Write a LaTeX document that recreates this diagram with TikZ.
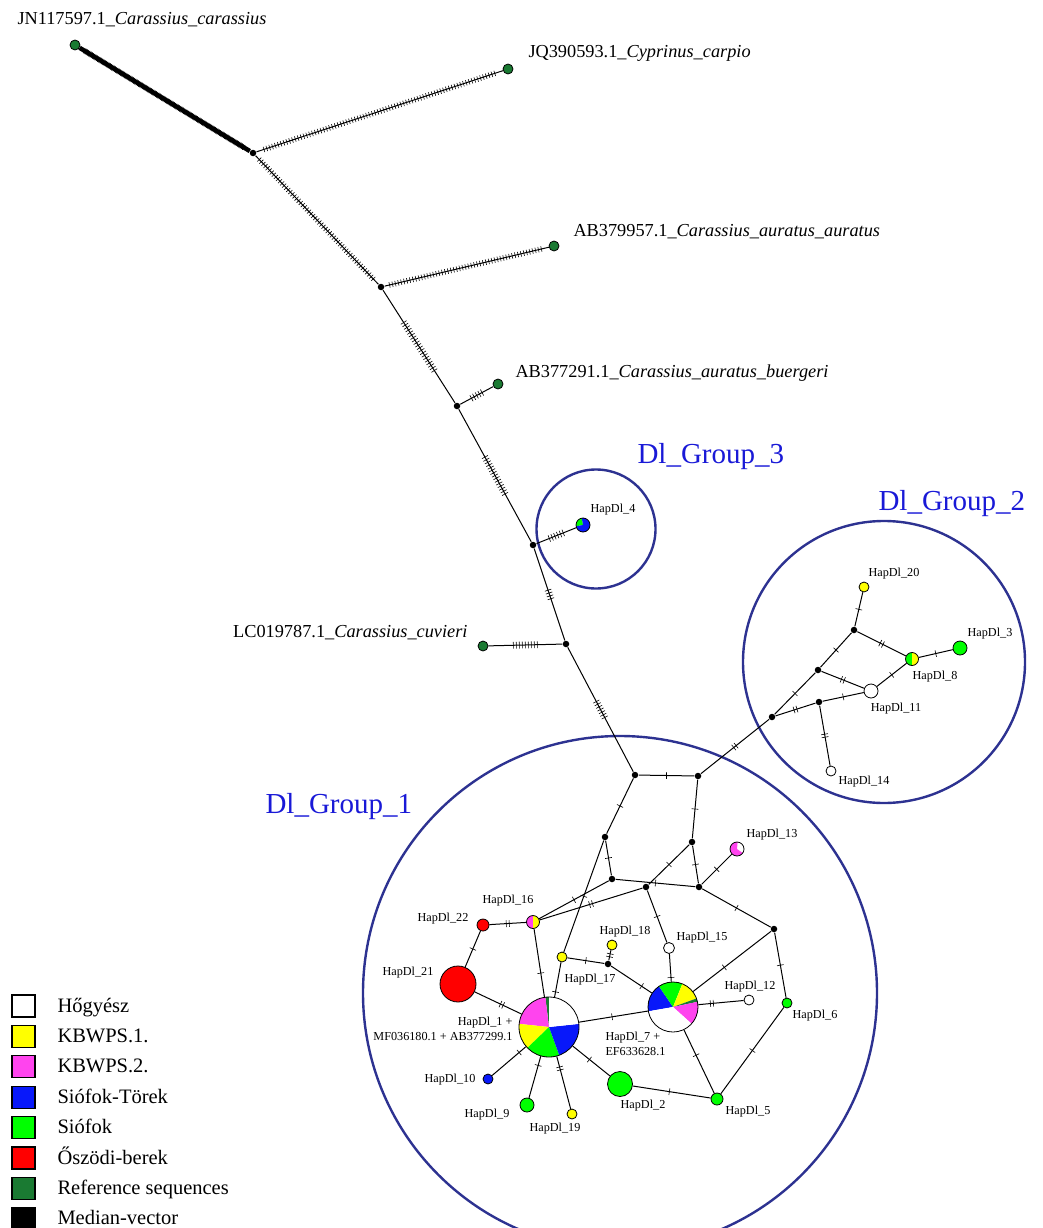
\documentclass[tikz,border=0pt]{standalone}
\usepackage{fontspec}
\setmainfont{Liberation Serif}
\usetikzlibrary{decorations.markings}

\definecolor{hyellow}{RGB}{255,255,0}
\definecolor{hpink}{RGB}{255,68,238}
\definecolor{hblue}{RGB}{8,24,250}
\definecolor{hgreen}{RGB}{0,255,0}
\definecolor{hred}{RGB}{255,0,0}
\definecolor{refgreen}{RGB}{26,122,50}
\definecolor{grpnavy}{RGB}{45,50,145}
\definecolor{titleblue}{RGB}{25,25,215}

\tikzset{
	med/.style={circle,fill=black,inner sep=0pt,minimum size=6.5pt},
	hap/.style={circle,draw,line width=.8pt,inner sep=0pt,minimum size=#1},
	hap/.default=10pt,
	refseq/.style={hap=10pt,fill=refgreen},
	lbl/.style={inner sep=0pt,font=\fontsize{12.2}{15}\selectfont},
	sp/.style={inner sep=0pt,font=\fontsize{18.3}{22}\selectfont},
	grp/.style={draw=grpnavy,line width=2.4pt},
	grptitle/.style={inner sep=0pt,text=titleblue,font=\fontsize{29}{32}\selectfont},
	legbox/.style={draw,line width=1.1pt,minimum width=23pt,minimum height=22pt,inner sep=0pt},
	legtext/.style={inner sep=0pt,font=\fontsize{20.5}{24}\selectfont},
	% n ticks (mutations) centred at a position of the edge
	mut/.style args={#1 at #2}{postaction={decorate,decoration={markings,
		mark=at position #2 with {\foreach \k in {1,...,#1}
			\draw[line width=.6pt] ({(\k-(#1+1)/2)*3pt},-3.4pt) -- ++(0,6.8pt);}}}},
	% ticks all along the edge
	mutrun/.style={postaction={decorate,decoration={markings,
		mark=between positions .03 and .97 step #1 with {\draw[line width=.6pt] (0,-2.8pt) -- (0,2.8pt);}}}},
}
\newcommand{\hapslice}[5]{\fill[#5] (#1) -- ++(#3:#2pt) arc[start angle=#3,end angle=#4,radius=#2pt] -- cycle;}

\begin{document}
\begin{tikzpicture}[x=1pt,y=-1pt,line width=1pt]
	\useasboundingbox (0,0) rectangle (1043,1228);
	
	% groups
	\draw[grp] (620,993) circle[radius=257pt];
	\draw[grp] (884,662) circle[radius=141pt];
	\draw[grp] (596,529) circle[radius=59.5pt];
	\node[grptitle,anchor=base west] (t1) at (265,813) {Dl\_Group\_1};
	\node[grptitle,anchor=base west] (t2) at (878,510) {Dl\_Group\_2};
	\node[grptitle,anchor=base west] (t3) at (637,463) {Dl\_Group\_3};
	
	% median vectors
	\node[med] (A) at (253,153) {};
	\node[med] (B) at (381,287) {};
	\node[med] (C) at (457,406) {};
	\node[med] (D) at (533,545) {};
	\node[med] (E) at (566,644) {};
	\node[med] (F) at (635,775) {};
	\node[med] (G) at (698,776) {};
	\node[med] (H) at (772,717) {};
	\node[med] (P) at (605,837) {};
	\node[med] (Q) at (692,842) {};
	\node[med] (R) at (612,879) {};
	\node[med] (S) at (646,887) {};
	\node[med] (T) at (699,887) {};
	\node[med] (U) at (774,929) {};
	\node[med] (V) at (608,964) {};
	\node[med] (M1) at (818,670) {};
	\node[med] (M2) at (854,630) {};
	\node[med] (M3) at (819,702) {};
	
	% reference sequences
	\node[refseq] (jn) at (75,45) {};
	\node[refseq] (jq) at (508,69) {};
	\node[refseq] (aba) at (554,246) {};
	\node[refseq] (abb) at (498,384) {};
	\node[refseq] (lc) at (483,646) {};
	\node[sp,anchor=base west] (tjn) at (17,25) {JN117597.1\_\textit{Carassius\_carassius}};
	\node[sp,anchor=base west] (tjq) at (528,58) {JQ390593.1\_\textit{Cyprinus\_carpio}};
	\node[sp,anchor=base west] (taba) at (573,236) {AB379957.1\_\textit{Carassius\_auratus\_auratus}};
	\node[sp,anchor=base west] (tabb) at (515,377) {AB377291.1\_\textit{Carassius\_auratus\_buergeri}};
	\node[sp,anchor=base east] (tlc) at (468,637) {LC019787.1\_\textit{Carassius\_cuvieri}};
	
	% pies
	\coordinate (c1) at (549,1027);
	\hapslice{c1}{30}{90}{97}{refgreen}
	\hapslice{c1}{30}{97}{174}{hpink}
	\hapslice{c1}{30}{174}{224}{hyellow}
	\hapslice{c1}{30}{224}{290}{hgreen}
	\hapslice{c1}{30}{290}{366}{hblue}
	\hapslice{c1}{30}{6}{90}{white}
	\coordinate (c7) at (673,1007);
	\hapslice{c7}{25}{124}{190}{hblue}
	\hapslice{c7}{25}{68}{124}{hgreen}
	\hapslice{c7}{25}{20}{68}{hyellow}
	\hapslice{c7}{25}{12}{20}{refgreen}
	\hapslice{c7}{25}{-42}{12}{hpink}
	\hapslice{c7}{25}{190}{318}{white}
	\coordinate (c4) at (583,525);
	\hapslice{c4}{7}{100}{190}{hgreen}
	\hapslice{c4}{7}{190}{460}{hblue}
	\coordinate (c13) at (737,849);
	\hapslice{c13}{7}{-35}{85}{white}
	\hapslice{c13}{7}{85}{325}{hpink}
	\coordinate (c16) at (533,922);
	\hapslice{c16}{6.5}{90}{270}{hpink}
	\hapslice{c16}{6.5}{-90}{90}{hyellow}
	\coordinate (c8) at (912,659);
	\hapslice{c8}{6.5}{90}{270}{hgreen}
	\hapslice{c8}{6.5}{-90}{90}{hyellow}
	
	% haplotypes
	\node[hap=60pt] (h1) at (c1) {};
	\node[hap=25pt,fill=hgreen] (h2) at (620,1084) {};
	\node[hap=14pt,fill=hgreen] (h3) at (960,648) {};
	\node[hap=14pt] (h4) at (c4) {};
	\node[hap=12pt,fill=hgreen] (h5) at (717,1099) {};
	\node[hap=10pt,fill=hgreen] (h6) at (787,1003) {};
	\node[hap=50pt] (h7) at (c7) {};
	\node[hap=13pt] (h8) at (c8) {};
	\node[hap=14pt,fill=hgreen] (h9) at (527,1105) {};
	\node[hap=10pt,fill=hblue] (h10) at (488,1079) {};
	\node[hap=14pt,fill=white] (h11) at (871,691) {};
	\node[hap=10pt,fill=white] (h12) at (749,1000) {};
	\node[hap=14pt] (h13) at (c13) {};
	\node[hap=10pt,fill=white] (h14) at (831,771) {};
	\node[hap=11pt,fill=white] (h15) at (669,948) {};
	\node[hap=13pt] (h16) at (c16) {};
	\node[hap=10pt,fill=hyellow] (h17) at (562,957) {};
	\node[hap=10pt,fill=hyellow] (h18) at (612,945) {};
	\node[hap=10pt,fill=hyellow] (h19) at (572,1114) {};
	\node[hap=10pt,fill=hyellow] (h20) at (864,587) {};
	\node[hap=36pt,fill=hred] (h21) at (458,984) {};
	\node[hap=12pt,fill=hred] (h22) at (483,925) {};
	
	% haplotype labels
	\node[lbl,anchor=east,align=right] (l1) at (513,1029) {HapDl\_1 +\\MF036180.1 + AB377299.1};
	\node[lbl] (l2) at (643,1106) {HapDl\_2};
	\node[lbl] (l3) at (990,634) {HapDl\_3};
	\node[lbl] (l4) at (613,510) {HapDl\_4};
	\node[lbl] (l5) at (748,1112) {HapDl\_5};
	\node[lbl] (l6) at (815,1016) {HapDl\_6};
	\node[lbl,anchor=west,align=left] (l7) at (605,1044) {HapDl\_7 +\\EF633628.1};
	\node[lbl] (l8) at (935,677) {HapDl\_8};
	\node[lbl] (l9) at (487,1115) {HapDl\_9};
	\node[lbl] (l10) at (450,1080) {HapDl\_10};
	\node[lbl] (l11) at (896,709) {HapDl\_11};
	\node[lbl] (l12) at (750,987) {HapDl\_12};
	\node[lbl] (l13) at (772,835) {HapDl\_13};
	\node[lbl] (l14) at (864,782) {HapDl\_14};
	\node[lbl] (l15) at (702,938) {HapDl\_15};
	\node[lbl] (l16) at (508,901) {HapDl\_16};
	\node[lbl] (l17) at (590,980) {HapDl\_17};
	\node[lbl] (l18) at (625,932) {HapDl\_18};
	\node[lbl] (l19) at (555,1129) {HapDl\_19};
	\node[lbl] (l20) at (894,574) {HapDl\_20};
	\node[lbl] (l21) at (408,973) {HapDl\_21};
	\node[lbl] (l22) at (443,919) {HapDl\_22};
	
	% outgroup branches
	\draw[line width=4.5pt,mutrun=1.5pt] (jn) -- (A);
	\draw[mutrun=3pt] (A) -- (jq);
	\draw[mutrun=3pt] (A) -- (B);
	\draw[mutrun=3pt] (B) -- (aba);
	\draw[mut=20 at .5] (B) -- (C);
	\draw[mut=5 at .5] (C) -- (abb);
	\draw[mut=15 at .5] (C) -- (D);
	\draw[mut=6 at .5] (D) -- (h4);
	\draw[mut=4 at .5] (D) -- (E);
	\draw[mut=9 at .5] (E) -- (lc);
	\draw[mut=7 at .5] (E) -- (F);
	
	% Dl_Group_2
	\draw[mut=2 at .5] (G) -- (H);
	\draw[mut=1 at .5] (H) -- (M1);
	\draw[mut=2 at .5] (H) -- (M3);
	\draw[mut=1 at .5] (M1) -- (M2);
	\draw[mut=1 at .5] (M2) -- (h20);
	\draw[mut=2 at .5] (M2) -- (h8);
	\draw[mut=2 at .5] (M1) -- (h11);
	\draw[mut=1 at .5] (h11) -- (h8);
	\draw[mut=1 at .5] (M3) -- (h11);
	\draw[mut=2 at .5] (M3) -- (h14);
	\draw[mut=1 at .5] (h8) -- (h3);
	
	% Dl_Group_1
	\draw[mut=1 at .5] (F) -- (G);
	\draw[mut=1 at .5] (F) -- (P);
	\draw[mut=1 at .5] (G) -- (Q);
	\draw[mut=1 at .5] (P) -- (R);
	\draw[mut=1 at .5] (P) -- (h17);
	\draw[mut=1 at .5] (Q) -- (T);
	\draw[mut=1 at .5] (Q) -- (S);
	\draw[mut=1 at .5] (R) -- (T);
	\draw[mut=1 at .5] (R) -- (h16);
	\draw[mut=2 at .5] (S) -- (h16);
	\draw[mut=1 at .5] (T) -- (h13);
	\draw[mut=1 at .5] (T) -- (U);
	\draw[mut=1 at .5] (U) -- (h6);
	\draw[mut=1 at .6] (U) -- (h7);
	\draw[mut=1 at .5] (S) -- (h15);
	\draw[mut=1 at .85] (h15) -- (h7);
	\draw[mut=1 at .5] (h6) -- (h5);
	\draw[mut=1 at .4] (h7) -- (h5);
	\draw[mut=1 at .47] (h2) -- (h5);
	\draw[mut=1 at .45] (h1) -- (h2);
	\draw[mut=1 at .48] (h1) -- (h7);
	\draw[mut=2 at .3] (h7) -- (h12);
	\draw[mut=1 at .75] (V) -- (h7);
	\draw[mut=2 at .5] (V) -- (h18);
	\draw[mut=1 at .5] (h17) -- (V);
	\draw[mut=1 at .85] (h17) -- (h1);
	\draw[mut=1 at .65] (h16) -- (h1);
	\draw[mut=2 at .5] (h22) -- (h16);
	\draw[mut=1 at .5] (h22) -- (h21);
	\draw[mut=2 at .58] (h21) -- (h1);
	\draw[mut=1 at .2] (h1) -- (h10);
	\draw[mut=1 at .22] (h1) -- (h9);
	\draw[mut=2 at .23] (h1) -- (h19);
	
	% legend
	\foreach \col/\txt [count=\i] in {white/Hőgyész, hyellow/KBWPS.1., hpink/KBWPS.2., hblue/Siófok-Törek, hgreen/Siófok, hred/Őszödi-berek, refgreen/Reference sequences, black/Median-vector}{
		\node[legbox,fill=\col] (key\i) at (23.5,{1006+(\i-1)*30.4}) {};
		\node[legtext,anchor=base west] (keytext\i) at (57,{1012+(\i-1)*30.4}) {\txt};
	}
\end{tikzpicture}
\end{document}
